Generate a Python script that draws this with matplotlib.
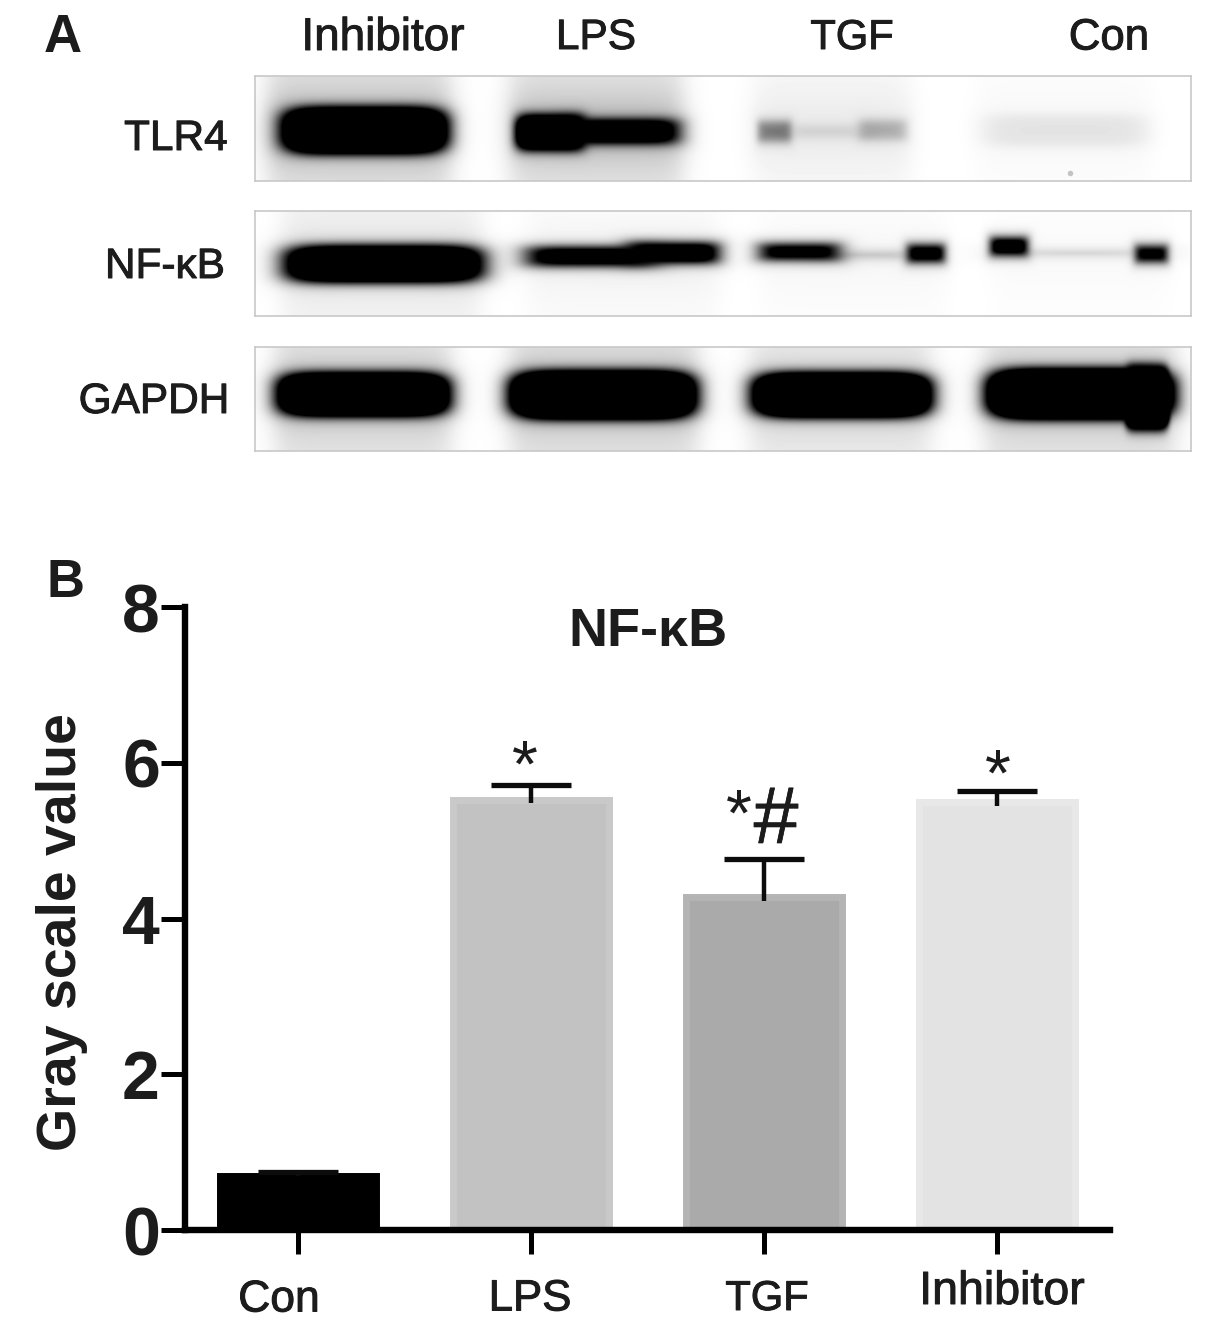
import numpy as np
import matplotlib
matplotlib.use('Agg')
import matplotlib.pyplot as plt
import matplotlib.patheffects as pe

plt.rcParams['font.family'] = ['Liberation Sans', 'DejaVu Sans']

W, H = 1205, 1325

# bar chart values
groups = ['Con', 'LPS', 'TGF', 'Inhibitor']
values = [0.69, 5.52, 4.27, 5.50]
err_up = [0.06, 0.19, 0.50, 0.14]
err_down = [0.0, 0.04, 0.04, 0.06]
bar_colors = ['#000000', '#c2c2c2', '#aaaaaa', '#e3e3e3']
edge_colors = ['#000000', '#c9c9c9', '#b4b4b4', '#e8e8e8']
y_ticks = [0, 2, 4, 6, 8]

# blot lanes: left, right, top, bottom, darkness (image pixels)
tlr4_bands = [
    (280, 448, 106, 154, 1.7), (515, 585, 114, 150, 1.7), (565, 676, 119, 143, 1.6),
    (758, 790, 121, 141, 0.5), (785, 865, 125, 137, 0.12), (860, 905, 120, 139, 0.28),
    (985, 1145, 114, 146, 0.08),
]
tlr4_haze = [(268, 450, 0.3), (510, 682, 0.27), (752, 910, 0.08), (975, 1150, 0.03)]
nfkb_bands = [
    (285, 482, 245, 282, 1.7), (530, 650, 247, 265, 1.5), (630, 716, 243, 262, 1.6),
    (762, 836, 244, 259, 1.4), (830, 910, 251, 258, 0.25), (908, 943, 245, 261, 1.4),
    (991, 1026, 238, 254, 1.5), (1025, 1135, 250, 255, 0.2), (1136, 1166, 246, 261, 1.3),
]
nfkb_haze = [(282, 480, 0.12), (527, 718, 0.05), (760, 945, 0.03), (990, 1168, 0.02)]
gapdh_bands = [
    (277, 449, 372, 416, 1.9), (509, 696, 370, 419, 1.9), (752, 931, 372, 417, 1.9),
    (986, 1174, 368, 419, 1.9), (1123, 1170, 365, 430, 1.6),
]
gapdh_haze = [(275, 450, 0.26), (510, 697, 0.28), (750, 930, 0.2), (985, 1175, 0.26)]

panels = [
    ('TLR4', 76, 181, 128, tlr4_bands, tlr4_haze, 176, 137),
    ('NF-κB', 211, 316, 260, nfkb_bands, nfkb_haze, 165, 265),
    ('GAPDH', 347, 451, 394, gapdh_bands, gapdh_haze, 154, 400),
]
lane_labels = [('Inhibitor', 383, 33), ('LPS', 596, 30.5), ('TGF', 852, 30), ('Con', 1109, 31.5)]
bottom_labels = [('Con', 279, 1298, 32), ('LPS', 530, 1297, 31.5), ('TGF', 767, 1297, 30), ('Inhibitor', 1002, 1290, 33.5)]


def px_axes(left, right, top, bottom):
    return fig.add_axes([left / W, 1 - bottom / H, (right - left) / W, (bottom - top) / H])


def px_text(x, y, s, stroke=0.7, **kw):
    kw.setdefault('ha', 'center')
    kw.setdefault('va', 'center')
    kw.setdefault('color', '#1c1c1c')
    t = fig.text(x / W, 1 - (y + 2) / H, s, **kw)
    if stroke:
        t.set_path_effects([pe.withStroke(linewidth=stroke, foreground=kw['color'])])
    return t


def soft(v, a, b, s):
    return 0.5 * (np.tanh((v - a) / s) - np.tanh((v - b) / s))


def band(X, Y, l, r, t, b):
    # rounded blob so the band ends are not square
    hw, hh = (r - l) / 2, (b - t) / 2
    u = np.abs(X - (l + r) / 2) / hw
    v = np.abs(Y - (t + b) / 2) / hh
    rr = (u ** 6 + v ** 3) ** (1 / 3)
    return 0.5 * (1 - np.tanh((rr - 1) / (6 / hh)))


def draw_blot(top, bottom, yc, bands, haze):
    x = np.arange(255, 1191)
    y = np.arange(top, bottom)
    X, Y = np.meshgrid(x, y)
    img = np.ones(X.shape)
    for l, r, d in haze:
        prof = 0.4 + 0.6 * np.exp(-((Y - yc) / 38.0) ** 2)
        img *= 1 - d * soft(X, l, r, 14) * prof
    for l, r, t, b, d in bands:
        img *= 1 - np.clip(d * band(X, Y, l, r, t, b), 0, 1)
    ax = px_axes(255, 1191, top, bottom)
    ax.imshow(img, cmap='gray', vmin=0, vmax=1, aspect='auto', interpolation='bilinear')
    ax.set_xticks([])
    ax.set_yticks([])
    for s in ax.spines.values():
        s.set_color('#c8c8c8')
        s.set_linewidth(1.2)
    return ax


fig = plt.figure(figsize=(W / 100, H / 100), dpi=100)

for name, top, bottom, yc, bands, haze, lx, ly in panels:
    blot = draw_blot(top, bottom, yc, bands, haze)
    px_text(lx, ly, name, fontsize=30.5)
    if name == 'TLR4':
        blot.plot([1069 - 255], [172 - 76], 'o', ms=4, color='#c4c4c4', mew=0)

for name, x, size in lane_labels:
    px_text(x, 36, name, fontsize=size)

px_text(63, 36, 'A', fontsize=38, fontweight='bold', stroke=0)
px_text(65, 581, 'B', fontsize=38, fontweight='bold', stroke=0)

# panel B
ax = px_axes(185, 1110, 607, 1230)
x_pos = np.arange(len(groups))
tops = [v + e for v, e in zip(values, err_up)]
lows = [v - e for v, e in zip(values, err_down)]
ax.bar(x_pos, values, width=0.67, color=bar_colors, edgecolor=edge_colors, linewidth=5)
ax.vlines(x_pos, lows, tops, color='#0c0c0c', linewidth=3.2)
ax.plot(x_pos, tops, linestyle='none', marker='_', ms=58, mew=3.8, color='#0c0c0c')
ax.set_xlim(-0.486, 3.484)
ax.set_ylim(0, 8)
ax.set_yticks(y_ticks)
ax.set_xticks(x_pos)
ax.set_xticklabels([])
ax.tick_params(axis='y', length=17, width=3.6, labelsize=49, pad=1)
ax.tick_params(axis='x', length=17, width=3.6)
for lab in ax.get_yticklabels():
    lab.set_fontweight('bold')
    lab.set_color('#1c1c1c')
for s in ['top', 'right']:
    ax.spines[s].set_visible(False)
for s in ['left', 'bottom']:
    ax.spines[s].set_linewidth(4.6)

px_text(62, 930, 'Gray scale value', fontsize=40, fontweight='bold', rotation=90, stroke=0)
px_text(648, 630, 'NF-κB', fontsize=39, fontweight='bold', stroke=0)

for name, x, y, size in bottom_labels:
    px_text(x, y, name, fontsize=size)

px_text(525, 768, '*', fontsize=48, stroke=0)
px_text(998, 777, '*', fontsize=48, stroke=0)
px_text(739, 817, '*', fontsize=48, stroke=0)
px_text(776, 820, '#', fontsize=58, stroke=0.5)

fig.savefig('out.png', dpi=100)
